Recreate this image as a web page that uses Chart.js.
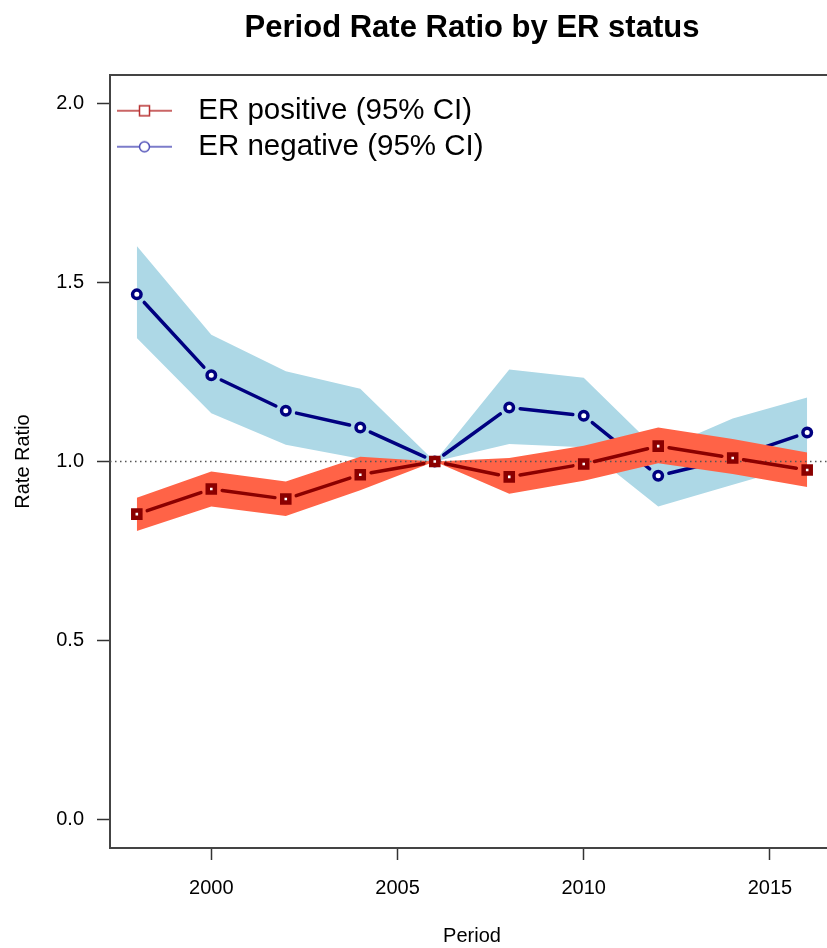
<!DOCTYPE html>
<html>
<head>
<meta charset="utf-8">
<title>Period Rate Ratio by ER status</title>
<script src="https://cdn.jsdelivr.net/npm/chart.js@4.4.1/dist/chart.umd.min.js"></script>
<style>
  html, body { margin: 0; padding: 0; background: #ffffff; overflow: hidden; }
  #wrap { position: relative; width: 850px; height: 948px; }
</style>
</head>
<body>
<div id="wrap"><canvas id="chart" width="850" height="948"></canvas></div>
<script>
// Period midpoints (years)
const periods = [1998, 2000, 2002, 2004, 2006, 2008, 2010, 2012, 2014, 2016];

// ER positive: rate ratio and 95% CI (reference period 2006)
const erPos   = [0.853, 0.923, 0.895, 0.963, 1.000, 0.957, 0.993, 1.043, 1.010, 0.976];
const erPosLo = [0.806, 0.874, 0.848, 0.920, 1.000, 0.910, 0.946, 0.995, 0.965, 0.929];
const erPosHi = [0.899, 0.972, 0.944, 1.013, 1.000, 1.010, 1.044, 1.095, 1.063, 1.025];

// ER negative: rate ratio and 95% CI
const erNeg   = [1.467, 1.241, 1.142, 1.095, 1.000, 1.151, 1.128, 0.960, 1.010, 1.081];
const erNegLo = [1.345, 1.135, 1.047, 1.008, 1.000, 1.049, 1.040, 0.874, 0.935, 0.995];
const erNegHi = [1.602, 1.354, 1.252, 1.203, 1.000, 1.257, 1.234, 1.030, 1.120, 1.179];

// Axis ticks and reference level
const xTicks = [2000, 2005, 2010, 2015];
const yTicks = [0.0, 0.5, 1.0, 1.5, 2.0];
const refRatio = 1.0;

// Axis limits with a 4% margin on each side of the data range
const xMin = 1997.28, xMax = 2016.72;
const yMin = -0.08, yMax = 2.08;

const FONT = '"Liberation Sans", Arial, Helvetica, sans-serif';
Chart.defaults.font.family = FONT;
Chart.defaults.color = '#000000';

const xy = ys => periods.map((p, i) => ({ x: p, y: ys[i] }));

// Legend swatch: thin line with an open marker in the middle
function legendSymbol(color, shape) {
  const c = document.createElement('canvas');
  c.width = 66; c.height = 18;
  const g = c.getContext('2d');
  g.strokeStyle = color;
  g.lineWidth = 1.5;
  g.beginPath(); g.moveTo(0, 9); g.lineTo(55, 9); g.stroke();
  g.fillStyle = '#ffffff';
  if (shape === 'rect') {
    g.fillRect(22.5, 4, 10, 10);
    g.strokeRect(22.5, 4, 10, 10);
  } else {
    g.beginPath(); g.arc(27.5, 9, 5, 0, Math.PI * 2); g.fill(); g.stroke();
  }
  return c;
}
const symPos = legendSymbol('#B83232', 'rect');
const symNeg = legendSymbol('#5050B8', 'circle');

// Connecting segments that stop short of each marker (lines + points style)
const gapLines = {
  id: 'gapLines',
  afterDatasetDraw(chart, args) {
    const ds = chart.data.datasets[args.index];
    if (!ds.gapLine) return;
    const { color, width, gap } = ds.gapLine;
    const pts = args.meta.data;
    const ctx = chart.ctx;
    const area = chart.chartArea;
    ctx.save();
    ctx.beginPath();
    ctx.rect(area.left, area.top, area.right - area.left, area.bottom - area.top);
    ctx.clip();
    ctx.strokeStyle = color;
    ctx.lineWidth = width;
    ctx.lineCap = 'round';
    for (let i = 0; i < pts.length - 1; i++) {
      const a = pts[i], b = pts[i + 1];
      const dx = b.x - a.x, dy = b.y - a.y;
      const len = Math.hypot(dx, dy);
      if (len <= 2 * gap) continue;
      const ux = dx / len, uy = dy / len;
      ctx.beginPath();
      ctx.moveTo(a.x + ux * gap, a.y + uy * gap);
      ctx.lineTo(b.x - ux * gap, b.y - uy * gap);
      ctx.stroke();
    }
    ctx.restore();
  }
};

const band = (data, color, order, fill) => ({
  data, fill, order,
  backgroundColor: color,
  borderColor: 'rgba(0,0,0,0)',
  borderWidth: 0,
  pointRadius: 0,
  pointHoverRadius: 0,
  xAxisID: 'x', yAxisID: 'y'
});

new Chart(document.getElementById('chart'), {
  type: 'line',
  data: {
    datasets: [
      band(xy(erNegHi), '#ADD8E6', 70, '+1'),
      band(xy(erNegLo), '#ADD8E6', 60, false),
      {
        label: 'ER negative (95% CI)',
        data: xy(erNeg),
        showLine: false,
        order: 50,
        pointStyle: 'circle',
        pointRadius: 4.25,
        pointBorderWidth: 3.5,
        pointBorderColor: '#000080',
        pointBackgroundColor: '#ffffff',
        gapLine: { color: '#000080', width: 3.5, gap: 11 },
        xAxisID: 'x', yAxisID: 'y'
      },
      band(xy(erPosHi), '#FF6347', 40, '+1'),
      band(xy(erPosLo), '#FF6347', 30, false),
      {
        label: 'reference',
        data: [{ x: xMin, y: refRatio }, { x: xMax, y: refRatio }],
        order: 20,
        fill: false,
        borderColor: '#555555',
        borderWidth: 1.4,
        borderDash: [1.5, 3.5],
        pointRadius: 0,
        pointHoverRadius: 0,
        xAxisID: 'x', yAxisID: 'y'
      },
      {
        label: 'ER positive (95% CI)',
        data: xy(erPos),
        showLine: false,
        order: 10,
        pointStyle: 'rect',
        pointRadius: 5,
        pointBorderWidth: 4.5,
        pointBorderColor: '#8B0000',
        pointBackgroundColor: '#ffffff',
        gapLine: { color: '#8B0000', width: 3.5, gap: 11 },
        xAxisID: 'x', yAxisID: 'y'
      }
    ]
  },
  options: {
    responsive: false,
    animation: false,
    events: [],
    layout: { padding: { left: 0, right: 16, top: 0, bottom: 0 } },
    scales: {
      x: {
        type: 'linear',
        position: 'bottom',
        min: xMin, max: xMax,
        afterBuildTicks: s => { s.ticks = xTicks.map(v => ({ value: v })); },
        afterFit: s => { s.height = 100; },
        ticks: {
          font: { size: 20 }, color: '#000000', padding: 16,
          autoSkip: false, maxRotation: 0,
          callback: v => String(v)
        },
        grid: { drawOnChartArea: false, drawTicks: true, tickLength: 12, tickColor: '#333333', tickWidth: 1.5 },
        border: { display: true, color: '#444444', width: 2 },
        title: { display: true, text: 'Period', font: { size: 20 }, color: '#000000', padding: { top: 0, bottom: 0 } }
      },
      x2: {
        type: 'linear',
        position: 'top',
        min: xMin, max: xMax,
        afterFit: s => { s.height = 0; },
        ticks: { display: false },
        grid: { display: false, drawTicks: false },
        border: { display: true, color: '#444444', width: 2 }
      },
      y: {
        type: 'linear',
        position: 'left',
        min: yMin, max: yMax,
        afterBuildTicks: s => { s.ticks = yTicks.map(v => ({ value: v })); },
        afterFit: s => { s.width = 110; },
        ticks: {
          font: { size: 20 }, color: '#000000', padding: 13,
          callback: v => Number(v).toFixed(1)
        },
        grid: { drawOnChartArea: false, drawTicks: true, tickLength: 13, tickColor: '#333333', tickWidth: 1.5 },
        border: { display: true, color: '#444444', width: 2 },
        title: { display: true, text: 'Rate Ratio', font: { size: 20 }, color: '#000000', padding: { top: 11, bottom: 0 } }
      }
    },
    plugins: {
      title: {
        display: true,
        text: 'Period Rate Ratio by ER status',
        fullSize: false,
        color: '#000000',
        font: { size: 31, weight: 'bold', lineHeight: 1.2 },
        padding: { top: 10, bottom: 27.8 }
      },
      legend: {
        display: true,
        position: 'chartArea',
        align: 'start',
        title: { display: true, text: '', font: { size: 10, lineHeight: 1 }, padding: { top: 79.5, bottom: 0 } },
        labels: {
          usePointStyle: true,
          pointStyleWidth: 67,
          padding: 6.5,
          color: '#000000',
          font: { size: 29.5 },
          generateLabels: () => [
            { text: 'ER positive (95% CI)', pointStyle: symPos, fillStyle: 'rgba(0,0,0,0)', strokeStyle: 'rgba(0,0,0,0)', lineWidth: 0, hidden: false, datasetIndex: 6 },
            { text: 'ER negative (95% CI)', pointStyle: symNeg, fillStyle: 'rgba(0,0,0,0)', strokeStyle: 'rgba(0,0,0,0)', lineWidth: 0, hidden: false, datasetIndex: 2 }
          ]
        }
      },
      tooltip: { enabled: false }
    }
  },
  plugins: [gapLines]
});
</script>
</body>
</html>
